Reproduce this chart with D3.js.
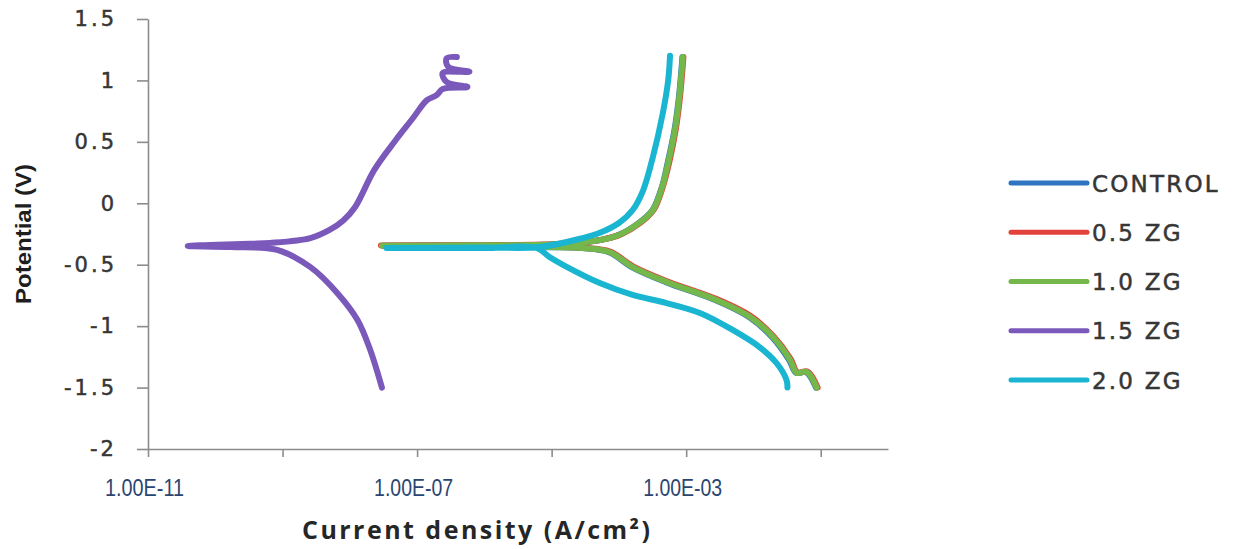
<!DOCTYPE html>
<html>
<head>
<meta charset="utf-8">
<script src="https://cdn.jsdelivr.net/npm/d3@7"></script>
<style>
  html, body { margin: 0; padding: 0; background: #fff; }
  svg { display: block; }
</style>
</head>
<body>
<svg id="chart" width="1246" height="549"></svg>
<script>
// ---------- data ----------
const seriesNames = ["CONTROL", "0.5 ZG", "1.0 ZG", "1.5 ZG", "2.0 ZG"];
const seriesColors = ["#2e74c0", "#e2423c", "#74b74b", "#7b59bb", "#19b5d1"];

const yTicks = [1.5, 1, 0.5, 0, -0.5, -1, -1.5, -2];
const yTickLabels = ["1.5", "1", "0.5", "0", "-0.5", "-1", "-1.5", "-2"];
const xTicks = [1e-11, 1e-9, 1e-7, 1e-5, 1e-3, 1e-1];
const xTickLabels = ["1.00E-11", "", "1.00E-07", "", "1.00E-03", ""];

// current density (A/cm2) and potential (V)
const controlI = [8.5e-2, 6.1e-2, 4.3e-2, 3.4e-2, 1.9e-2, 8.7e-3, 2.75e-3, 5.0e-4, 1.58e-4, 7.1e-5, 2.85e-5, 9.1e-6, 1.0e-6, 3.1e-8, 1.0e-6, 1.0e-5, 3.15e-5, 5.1e-5, 9.8e-5, 1.96e-4, 3.15e-4, 4.35e-4, 5.3e-4, 6.7e-4, 7.8e-4, 8.8e-4];
const controlE = [-1.50, -1.375, -1.38, -1.277, -1.09, -0.927, -0.789, -0.642, -0.521, -0.398, -0.365, -0.357, -0.351, -0.346, -0.343, -0.336, -0.316, -0.301, -0.259, -0.161, -0.056, 0.132, 0.329, 0.596, 0.864, 1.19];

const zg05I = [9.0e-2, 6.4e-2, 4.5e-2, 3.6e-2, 2.0e-2, 9.2e-3, 2.9e-3, 5.3e-4, 1.65e-4, 7.4e-5, 3.0e-5, 9.6e-6, 1.0e-6, 2.9e-8, 1.0e-6, 1.0e-5, 3.3e-5, 5.4e-5, 1.05e-4, 2.1e-4, 3.3e-4, 4.5e-4, 5.6e-4, 7.0e-4, 8.1e-4, 9.1e-4];
const zg05E = [-1.50, -1.37, -1.375, -1.27, -1.085, -0.92, -0.782, -0.636, -0.515, -0.393, -0.362, -0.354, -0.349, -0.344, -0.341, -0.334, -0.313, -0.298, -0.255, -0.158, -0.052, 0.135, 0.333, 0.60, 0.868, 1.19];

const zg10I = [8.7e-2, 6.2e-2, 4.4e-2, 3.5e-2, 1.95e-2, 8.9e-3, 2.8e-3, 5.1e-4, 1.6e-4, 7.2e-5, 2.9e-5, 9.3e-6, 1.0e-6, 3.0e-8, 1.0e-6, 1.0e-5, 3.2e-5, 5.2e-5, 1.0e-4, 2.0e-4, 3.2e-4, 4.4e-4, 5.4e-4, 6.8e-4, 7.9e-4, 8.9e-4];
const zg10E = [-1.50, -1.373, -1.38, -1.275, -1.088, -0.925, -0.787, -0.64, -0.519, -0.396, -0.364, -0.356, -0.35, -0.345, -0.342, -0.335, -0.315, -0.30, -0.258, -0.16, -0.055, 0.133, 0.33, 0.597, 0.865, 1.19];

const zg15I = [3.0e-8, 2.0e-8, 1.3e-8, 6.5e-9, 2.6e-9, 8.3e-10, 1.7e-10, 3.9e-11, 3.3e-10, 6.5e-10, 2.6e-9, 5.0e-9, 8.0e-9, 1.2e-8, 2.3e-8, 4.7e-8, 8.7e-8, 1.4e-7, 1.95e-7, 2.4e-7, 5.6e-7, 2.75e-7, 2.4e-7, 6.0e-7, 2.9e-7, 2.75e-7, 3.9e-7];
const zg15E = [-1.50, -1.19, -0.95, -0.73, -0.52, -0.38, -0.356, -0.348, -0.33, -0.323, -0.283, -0.217, -0.14, -0.03, 0.27, 0.507, 0.694, 0.84, 0.88, 0.93, 0.947, 0.987, 1.06, 1.07, 1.11, 1.18, 1.19];

const zg20I = [3.2e-2, 3.1e-2, 2.2e-2, 1.23e-2, 4.9e-3, 1.6e-3, 5.1e-4, 1.6e-4, 5.2e-5, 1.7e-5, 9.3e-6, 6.0e-6, 1.0e-6, 3.5e-8, 1.0e-6, 6.6e-6, 2.9e-5, 5.2e-5, 1.0e-4, 1.6e-4, 2.3e-4, 3.2e-4, 4.5e-4, 5.4e-4, 5.75e-4];
const zg20E = [-1.50, -1.438, -1.30, -1.17, -1.031, -0.893, -0.812, -0.746, -0.649, -0.519, -0.437, -0.364, -0.364, -0.364, -0.36, -0.356, -0.283, -0.24, -0.16, -0.055, 0.108, 0.377, 0.735, 1.0, 1.2];

const seriesI = [controlI, zg05I, zg10I, zg15I, zg20I];
const seriesE = [controlE, zg05E, zg10E, zg15E, zg20E];

// ---------- layout ----------
const svg = d3.select("#chart");
const x = d3.scaleLog().domain([1e-11, 1]).range([148, 888]);
const y = d3.scaleLinear().domain([-2, 1.5]).range([449, 19]);
const axisColor = "#8c8c8c";

// y axis
const gy = svg.append("g").attr("transform", "translate(148,0)")
  .call(d3.axisLeft(y).tickValues(yTicks).tickSize(11).tickSizeOuter(0)
    .tickPadding(20).tickFormat((d, i) => yTickLabels[i]));
gy.select(".domain").attr("stroke", axisColor).attr("stroke-width", 1.6);
gy.selectAll(".tick line").attr("stroke", axisColor).attr("stroke-width", 1.6);
gy.selectAll(".tick text")
  .attr("fill", "#363636")
  .attr("stroke", "#363636")
  .attr("stroke-width", 0.5)
  .style("font-family", "'DejaVu Sans', Verdana, sans-serif")
  .style("font-size", "21px")
  .style("letter-spacing", "3px");

// x axis
const gx = svg.append("g").attr("transform", "translate(0,449)")
  .call(d3.axisBottom(x).tickValues(xTicks).tickSize(8).tickSizeOuter(0)
    .tickFormat((d, i) => xTickLabels[i]));
gx.select(".domain").attr("stroke", axisColor).attr("stroke-width", 1.6);
gx.selectAll(".tick line").attr("stroke", axisColor).attr("stroke-width", 1.6);
gx.selectAll(".tick text")
  .attr("y", 47)
  .attr("dy", 0)
  .attr("x", -4)
  .attr("fill", "#2a4670")
  .style("font-family", "'Liberation Sans', Arial, sans-serif")
  .style("font-size", "24px")
  .each(function () {
    if (this.textContent) {
      d3.select(this).attr("textLength", 79).attr("lengthAdjust", "spacingAndGlyphs");
    }
  });

// curves
const line = d3.line()
  .x(d => x(d[0]))
  .y(d => y(d[1]))
  .curve(d3.curveCatmullRom.alpha(0.5));

const plot = svg.append("g");
seriesNames.forEach((name, k) => {
  const pts = seriesI[k].map((v, i) => [v, seriesE[k][i]]);
  plot.append("path")
    .attr("d", line(pts))
    .attr("fill", "none")
    .attr("stroke", seriesColors[k])
    .attr("stroke-width", 6)
    .attr("stroke-linejoin", "round")
    .attr("stroke-linecap", "round");
});

// legend
const legendY = d3.scalePoint().domain(seriesNames).range([183, 380]);
const lg = svg.append("g");
seriesNames.forEach((name, k) => {
  const yy = legendY(name);
  lg.append("line")
    .attr("x1", 1011).attr("x2", 1087)
    .attr("y1", yy).attr("y2", yy)
    .attr("stroke", seriesColors[k])
    .attr("stroke-width", 5)
    .attr("stroke-linecap", "round");
  lg.append("text")
    .attr("x", 1092).attr("y", yy + 8.5)
    .attr("fill", "#363636")
    .attr("stroke", "#363636")
    .attr("stroke-width", 0.5)
    .style("font-family", "'DejaVu Sans', Verdana, sans-serif")
    .style("font-size", "23px")
    .style("letter-spacing", "2.2px")
    .text(name);
});

// axis titles
svg.append("text")
  .attr("x", 476).attr("y", 539)
  .attr("text-anchor", "middle")
  .attr("fill", "#262626")
  .attr("textLength", 348)
  .attr("lengthAdjust", "spacing")
  .style("font-family", "'Open Sans', 'Liberation Sans', sans-serif")
  .style("font-weight", "bold")
  .style("font-size", "25px")
  .text("Current density (A/cm²)");

svg.append("text")
  .attr("transform", "translate(31,234) rotate(-90)")
  .attr("text-anchor", "middle")
  .attr("fill", "#1e1e1e")
  .attr("textLength", 140)
  .attr("lengthAdjust", "spacingAndGlyphs")
  .style("font-family", "'Liberation Sans', Arial, sans-serif")
  .style("font-weight", "bold")
  .style("font-size", "22px")
  .text("Potential (V)");
</script>
</body>
</html>
